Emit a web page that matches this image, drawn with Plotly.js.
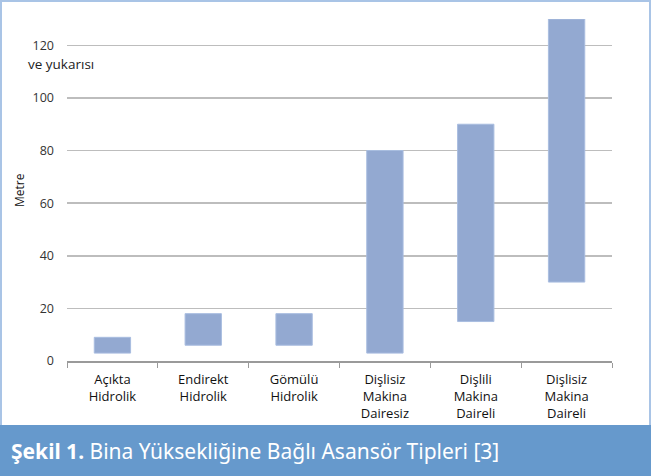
<!DOCTYPE html>
<html>
<head>
<meta charset="utf-8">
<script src="https://cdn.plot.ly/plotly-3.0.1.min.js"></script>
<style>html,body{margin:0;padding:0;background:#fff;}#chart{width:651px;height:476px;}</style>
</head>
<body>
<div id="chart"></div>
<script>
const categories = [
  "Açıkta<br>Hidrolik",
  "Endirekt<br>Hidrolik",
  "Gömülü<br>Hidrolik",
  "Dişlisiz<br>Makina<br>Dairesiz",
  "Dişlili<br>Makina<br>Daireli",
  "Dişlisiz<br>Makina<br>Daireli"
];
const lowValues = [3, 6, 6, 3, 15, 30];
const highValues = [9, 18, 18, 80, 90, 130];
const yTickVals = [0, 20, 40, 60, 80, 100, 120];
const yTickText = ["0", "20", "40", "60", "80", "100", "120"];
const yTopNote = "ve yukarısı";
const yAxisTitle = "Metre";
const captionBold = "Şekil 1.";
const captionRest = " Bina Yüksekliğine Bağlı Asansör Tipleri [3]";

const W = 651, H = 476;
const mL = 67, mR = 39, mT = 19, mB = 115;
const pw = W - mL - mR, ph = H - mT - mB;
const px = x => (x - mL) / pw;
const py = y => (H - mB - y) / ph;

const trace = {
  type: "bar",
  x: categories,
  base: lowValues,
  y: highValues.map((h, i) => h - lowValues[i]),
  width: 0.4,
  marker: {color: "#93a9d1", line: {color: "#a9bde0", width: 1}},
  hoverinfo: "skip"
};

const layout = {
  width: W, height: H,
  margin: {l: mL, r: mR, t: mT, b: mB, pad: 0},
  paper_bgcolor: "#ffffff",
  plot_bgcolor: "#ffffff",
  showlegend: false,
  font: {family: "Open Sans, Noto Sans, sans-serif", color: "#222", size: 12},
  xaxis: {
    type: "category",
    tickson: "boundaries",
    ticks: "outside",
    ticklen: 5,
    tickcolor: "#9a9a9a",
    tickwidth: 1,
    showline: true,
    linecolor: "#9a9a9a",
    linewidth: 1.5,
    showgrid: false,
    ticklabelstandoff: 6,
    tickfont: {size: 13, color: "#111", family: "Open Sans, Noto Sans, sans-serif"},
    fixedrange: true
  },
  yaxis: {
    range: [0, 130],
    tickvals: yTickVals,
    ticktext: yTickText,
    ticks: "",
    ticklabelstandoff: 12,
    showgrid: true,
    gridcolor: "#bdbdbd",
    gridwidth: 1.5,
    zeroline: false,
    showline: false,
    tickfont: {size: 12.5, color: "#333"},
    fixedrange: true
  },
  shapes: [
    {type: "rect", xref: "paper", yref: "paper", layer: "below",
     x0: px(1), x1: px(W - 1), y0: py(H - 1), y1: py(1),
     line: {color: "#a9c4e6", width: 2}, fillcolor: "rgba(0,0,0,0)"},
    {type: "rect", xref: "paper", yref: "paper", layer: "above",
     x0: px(0), x1: px(W), y0: py(H), y1: py(425),
     line: {width: 0}, fillcolor: "#6699cc"}
  ],
  annotations: [
    {xref: "paper", yref: "y", x: px(26), y: 120, yshift: -19,
     xanchor: "left", yanchor: "middle", showarrow: false,
     text: yTopNote, font: {size: 13.5, color: "#222"}},
    {xref: "paper", yref: "paper", x: px(19), y: 0.5, textangle: -90,
     xanchor: "center", yanchor: "middle", showarrow: false,
     text: yAxisTitle, font: {size: 12, color: "#111"}},
    {xref: "paper", yref: "paper", x: px(9), y: py(451),
     xanchor: "left", yanchor: "middle", showarrow: false,
     text: "<b>" + captionBold + "</b>" + captionRest,
     font: {size: 21, color: "#ffffff", family: "Noto Sans, Open Sans, sans-serif"}}
  ]
};

Plotly.newPlot("chart", [trace], layout, {displayModeBar: false, staticPlot: true});
</script>
</body>
</html>
